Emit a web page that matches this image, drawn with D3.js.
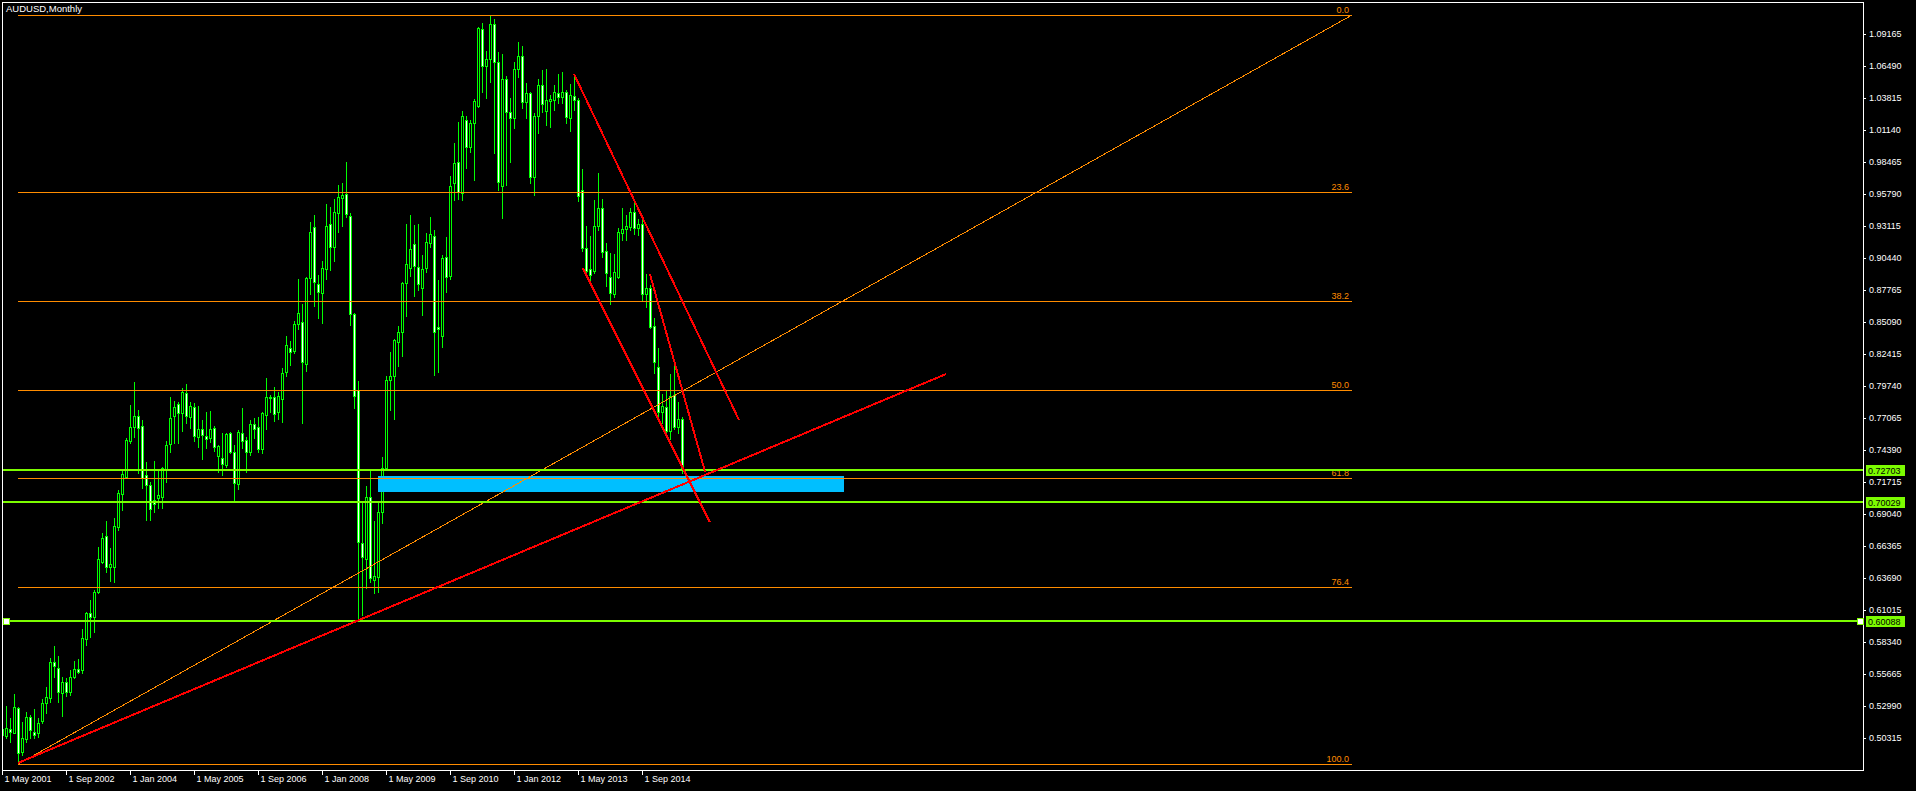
<!DOCTYPE html>
<html><head><meta charset="utf-8">
<script src="https://cdn.jsdelivr.net/npm/d3@7"></script>
<style>
html,body{margin:0;padding:0;background:#000;overflow:hidden}
svg{display:block}
text{font-family:"Liberation Sans",Arial,sans-serif}
</style></head><body>
<script>
// ---------------- DATA ----------------
const chartTitle = "AUDUSD,Monthly";
const firstMonth = "2001-05"; // first bar (month index 0)

const opens = [0.5105,0.5045,0.5107,0.5076,0.5280,0.4917,0.5021,0.5205,0.5085,0.5071,0.5176,0.5321,0.5368,0.5669,0.5620,0.5410,0.5497,0.5419,0.5544,0.5606,
0.5600,0.5856,0.6074,0.6040,0.6255,0.6500,0.6723,0.6464,0.6464,0.6793,0.7068,0.7216,0.7514,0.7634,0.7723,0.7640,0.7230,0.7146,0.7021,0.7035,
0.7043,0.7272,0.7489,0.7726,0.7821,0.7751,0.7912,0.7717,0.7796,0.7550,0.7617,0.7553,0.7542,0.7620,0.7389,0.7369,0.7314,0.7578,0.7419,0.7151,
0.7578,0.7522,0.7425,0.7654,0.7628,0.7444,0.7729,0.7876,0.7882,0.7760,0.7865,0.8088,0.8289,0.8269,0.8489,0.8512,0.8155,0.8874,0.9306,0.8824,
0.8754,0.8949,0.9326,0.9133,0.9417,0.9543,0.9579,0.9395,0.8576,0.7941,0.6664,0.6525,0.7043,0.6355,0.6380,0.6920,0.7290,0.8020,0.8060,0.8345,
0.8428,0.8832,0.8958,0.9158,0.8971,0.8790,0.8958,0.9167,0.9231,0.8464,0.8395,0.9049,0.8896,0.9668,0.9844,0.9584,1.0198,0.9969,1.0175,1.0317,
1.0956,1.0652,1.0705,1.0997,1.0680,0.9649,1.0540,1.0262,1.0211,1.0621,1.0733,1.0351,1.0420,0.9718,1.0231,1.0490,1.0276,1.0359,1.0365,1.0420,
1.0393,1.0429,1.0211,1.0401,1.0365,0.9612,0.9125,0.8949,0.8938,0.9314,0.9459,0.9105,0.8888,0.8743,0.8888,0.9256,0.9284,0.9306,0.9426,0.9292,
0.9325,0.8743,0.8791,0.8476,0.8130,0.7760,0.7796,0.7601,0.7898,0.7634,0.7695];
const highs = [0.5190,0.5299,0.5196,0.5399,0.5292,0.5168,0.5246,0.5224,0.5271,0.5196,0.5355,0.5455,0.5698,0.5801,0.5717,0.5544,0.5530,0.5600,0.5675,0.5689,
0.5943,0.6088,0.6185,0.6269,0.6625,0.6742,0.6846,0.6617,0.6868,0.7105,0.7272,0.7537,0.7815,0.8005,0.7773,0.7690,0.7342,0.7174,0.7347,0.7272,
0.7300,0.7514,0.7880,0.7849,0.7843,0.7955,0.7991,0.7843,0.7830,0.7807,0.7690,0.7760,0.7768,0.7643,0.7481,0.7578,0.7584,0.7590,0.7481,0.7606,
0.7787,0.7550,0.7690,0.7709,0.7718,0.7760,0.8038,0.7899,0.7968,0.7927,0.8122,0.8392,0.8350,0.8517,0.8866,0.8660,0.8888,0.9348,0.9403,0.8902,
0.9022,0.9495,0.9468,0.9534,0.9654,0.9674,0.9847,0.9417,0.8581,0.8016,0.6999,0.7138,0.7264,0.6846,0.7010,0.7380,0.8060,0.8261,0.8364,0.8476,
0.8846,0.9328,0.9403,0.9320,0.9328,0.9069,0.9256,0.9384,0.9278,0.8860,0.9069,0.9217,0.9730,1.0003,1.0178,1.0273,1.0231,1.0198,1.0370,1.0978,
1.1011,1.0774,1.1075,1.1040,1.0769,1.0749,1.0565,1.0384,1.0685,1.0852,1.0819,1.0509,1.0430,1.0259,1.0540,1.0615,1.0624,1.0407,1.0490,1.0582,
1.0596,1.0448,1.0498,1.0582,1.0379,0.9785,0.9311,0.9228,0.9529,0.9752,0.9534,0.9167,0.9083,0.9077,0.9292,0.9459,0.9404,0.9459,0.9501,0.9367,
0.9390,0.8910,0.8818,0.8540,0.8289,0.7907,0.7932,0.8072,0.8150,0.7843,0.7712];
const lows = [0.5030,0.5031,0.5001,0.5071,0.4820,0.4890,0.5001,0.5029,0.5029,0.5043,0.5154,0.5243,0.5335,0.5544,0.5335,0.5216,0.5383,0.5391,0.5530,0.5578,
0.5578,0.5809,0.5873,0.5921,0.6241,0.6492,0.6422,0.6347,0.6333,0.6770,0.6937,0.7202,0.7495,0.7550,0.7244,0.7119,0.6854,0.6854,0.6924,0.6951,
0.6950,0.7174,0.7425,0.7500,0.7495,0.7601,0.7662,0.7620,0.7517,0.7467,0.7361,0.7453,0.7509,0.7433,0.7258,0.7230,0.7300,0.7411,0.7007,0.7110,
0.7453,0.7258,0.7397,0.7542,0.7425,0.7411,0.7612,0.7760,0.7682,0.7696,0.7676,0.8060,0.8150,0.8253,0.8450,0.7668,0.8100,0.8743,0.8646,0.8545,
0.8503,0.8866,0.8944,0.9022,0.9264,0.9314,0.9384,0.8484,0.7793,0.6018,0.6060,0.6283,0.6339,0.6241,0.6250,0.6830,0.7270,0.7770,0.7700,0.8141,
0.8228,0.8562,0.8896,0.8729,0.8780,0.8568,0.8930,0.9133,0.8070,0.8090,0.8303,0.8763,0.8866,0.9529,0.9534,0.9529,0.9799,0.9933,0.9696,1.0309,
1.0434,1.0384,1.0518,0.9919,0.9612,0.9381,0.9654,0.9849,1.0134,1.0560,1.0301,1.0217,0.9668,0.9571,1.0092,1.0267,1.0156,1.0142,1.0281,1.0343,
1.0337,1.0175,1.0108,1.0280,0.9523,0.9105,0.8921,0.8846,0.8916,0.9278,0.9050,0.8810,0.8657,0.8721,0.8874,0.9195,0.9195,0.9278,0.9245,0.9237,
0.8687,0.8637,0.8456,0.8080,0.7718,0.7662,0.7564,0.7528,0.7612,0.7579,0.7250];
const closes = [0.5060,0.5112,0.5079,0.5288,0.4904,0.5029,0.5210,0.5099,0.5057,0.5160,0.5321,0.5371,0.5664,0.5633,0.5419,0.5497,0.5419,0.5539,0.5606,0.5586,
0.5865,0.6079,0.6040,0.6249,0.6525,0.6701,0.6464,0.6483,0.6807,0.7077,0.7238,0.7523,0.7634,0.7726,0.7620,0.7202,0.7146,0.6943,0.6985,0.7063,
0.7286,0.7481,0.7704,0.7801,0.7745,0.7921,0.7726,0.7810,0.7559,0.7612,0.7562,0.7528,0.7612,0.7467,0.7472,0.7319,0.7573,0.7425,0.7160,0.7590,
0.7517,0.7419,0.7654,0.7617,0.7447,0.7745,0.7882,0.7885,0.7737,0.7890,0.8080,0.8317,0.8261,0.8492,0.8581,0.8177,0.8880,0.9259,0.8841,0.8763,
0.8958,0.9312,0.9133,0.9426,0.9557,0.9571,0.9409,0.8576,0.7893,0.6673,0.6548,0.7043,0.6366,0.6386,0.6924,0.7290,0.8020,0.8060,0.8359,0.8423,
0.8832,0.8991,0.9116,0.8977,0.8827,0.8949,0.9175,0.9242,0.8428,0.8447,0.9041,0.8888,0.9649,0.9835,0.9598,1.0231,0.9975,1.0170,1.0356,1.0964,
1.0652,1.0705,1.0997,1.0680,0.9677,1.0540,1.0262,1.0217,1.0621,1.0733,1.0351,1.0420,0.9718,1.0231,1.0490,1.0331,1.0365,1.0370,1.0434,1.0387,
1.0429,1.0220,1.0406,1.0365,0.9565,0.9125,0.8938,0.8902,0.9314,0.9459,0.9097,0.8921,0.8749,0.8924,0.9259,0.9284,0.9311,0.9426,0.9292,0.9325,
0.8743,0.8791,0.8470,0.8172,0.7760,0.7807,0.7601,0.7890,0.7634,0.7695,0.7272];

const priceTicks = [0.50315,0.52990,0.55665,0.58340,0.61015,0.63690,0.66365,0.69040,0.71715,0.74390,0.77065,0.79740,
0.82415,0.85090,0.87765,0.90440,0.93115,0.95790,0.98465,1.01140,1.03815,1.06490,1.09165];
const dateTickLabels = ["1 May 2001","1 Sep 2002","1 Jan 2004","1 May 2005","1 Sep 2006","1 Jan 2008",
"1 May 2009","1 Sep 2010","1 Jan 2012","1 May 2013","1 Sep 2014"];

// Fibonacci retracement (anchors in month index / price)
const fibLevels = [0.0, 23.6, 38.2, 50.0, 61.8, 76.4, 100.0];
const fibAnchorMonths = [4, 337.5];
const fibAnchorPrices = [0.4812, 1.1075];

// Horizontal price levels (green)
const levelPrices = [0.72703, 0.70029, 0.60088];

// Red trend lines (month index / price of both ends)
const trendStartMonths = [4, 143, 145.2, 162];
const trendStartPrices = [0.4823, 1.0582, 0.8958, 0.8908];
const trendEndMonths   = [236, 184.25, 177, 175.75];
const trendEndPrices   = [0.8074, 0.7690, 0.6835, 0.7258];

// Blue zone rectangle
const zoneMonths = [94, 210.5];
const zonePrices = [0.7222, 0.7088];

// ---------------- CHART ----------------
const W = 1916, H = 791;
const L = 2, R = 1863, T = 2, B = 770;
const cGreen = "#00ff00", cLevel = "#7cfc00", cFib = "#ff8c00", cRed = "#ff0000", cZone = "#00bfff";

const svg = d3.select("body").append("svg").attr("width", W).attr("height", H)
  .style("background", "#000").attr("shape-rendering", "crispEdges");

const x = d3.scaleLinear().domain([0, (R - L) / 4]).range([L, R]);
const y = d3.scaleLinear().domain([0.4764, 1.1184]).range([B, T]);

svg.append("defs").append("clipPath").attr("id", "plot")
  .append("rect").attr("x", L + 1).attr("y", T + 1).attr("width", R - L - 1).attr("height", B - T - 1);

const plot = svg.append("g").attr("clip-path", "url(#plot)");

const bars = opens.map((o, i) => ({i, o, h: highs[i], l: lows[i], c: closes[i]}));

// candles
const cg = plot.append("g");
bars.forEach(d => {
  const cx = Math.round(x(d.i));
  cg.append("line").attr("x1", cx + 0.5).attr("x2", cx + 0.5)
    .attr("y1", Math.round(y(d.h))).attr("y2", Math.round(y(d.l)) + 1)
    .attr("stroke", cGreen).attr("stroke-width", 1);
  const top = Math.round(y(Math.max(d.o, d.c))) + 0.5;
  const bot = Math.round(y(Math.min(d.o, d.c))) + 0.5;
  cg.append("rect").attr("x", cx - 0.5).attr("width", 2)
    .attr("y", top).attr("height", Math.max(0, bot - top))
    .attr("fill", d.c >= d.o ? "#000" : "#fff")
    .attr("stroke", cGreen).attr("stroke-width", 1);
});

// blue zone
plot.append("rect")
  .attr("x", x(zoneMonths[0])).attr("width", x(zoneMonths[1]) - x(zoneMonths[0]))
  .attr("y", y(zonePrices[0])).attr("height", y(zonePrices[1]) - y(zonePrices[0]))
  .attr("fill", cZone);

// fibonacci
const fibHigh = fibAnchorPrices[1], fibLow = fibAnchorPrices[0];
const fg = plot.append("g");
fibLevels.forEach(lv => {
  const p = fibHigh - (fibHigh - fibLow) * lv / 100;
  const yy = Math.round(y(p)) + 0.5;
  fg.append("line").attr("x1", x(fibAnchorMonths[0])).attr("x2", x(fibAnchorMonths[1]))
    .attr("y1", yy).attr("y2", yy).attr("stroke", cFib).attr("stroke-width", 1);
  fg.append("text").attr("x", x(fibAnchorMonths[1]) - 3).attr("y", yy - 3)
    .attr("text-anchor", "end").attr("fill", cFib).attr("font-size", 9)
    .text(lv.toFixed(1));
});
fg.append("line")
  .attr("x1", x(fibAnchorMonths[0])).attr("y1", y(fibLow))
  .attr("x2", x(fibAnchorMonths[1])).attr("y2", y(fibHigh))
  .attr("stroke", cFib).attr("stroke-width", 1);

// green levels
levelPrices.forEach(p => {
  const yy = Math.round(y(p));
  plot.append("line").attr("x1", L).attr("x2", R).attr("y1", yy).attr("y2", yy)
    .attr("stroke", cLevel).attr("stroke-width", 2);
});

// red trend lines
trendStartMonths.forEach((m, k) => {
  plot.append("line")
    .attr("x1", x(m)).attr("y1", y(trendStartPrices[k]))
    .attr("x2", x(trendEndMonths[k])).attr("y2", y(trendEndPrices[k]))
    .attr("stroke", cRed).attr("stroke-width", 2);
});

// frame
svg.append("rect").attr("x", L + 0.5).attr("y", T + 0.5).attr("width", R - L).attr("height", B - T)
  .attr("fill", "none").attr("stroke", "#fff").attr("stroke-width", 1);

// price axis
const yAxis = d3.axisRight(y).tickValues(priceTicks).tickSize(3).tickPadding(3)
  .tickFormat(d3.format(".5f"));
const yg = svg.append("g").attr("transform", `translate(${R},0)`).call(yAxis);
yg.select(".domain").remove();
yg.selectAll("line").attr("stroke", "#fff");
yg.selectAll("text").attr("fill", "#fff").attr("font-size", 9).attr("font-family", "Liberation Sans, Arial, sans-serif");

// time axis
const parseTick = d3.utcParse("%d %b %Y");
const start = d3.utcParse("%Y-%m")(firstMonth);
const tickIdx = dateTickLabels.map(s => d3.utcMonth.count(start, parseTick(s)));
const xAxis = d3.axisBottom(x).tickValues(tickIdx).tickSize(5)
  .tickFormat((d, k) => dateTickLabels[k]);
const xg = svg.append("g").attr("transform", `translate(0,${B})`).call(xAxis);
xg.select(".domain").remove();
xg.selectAll("line").attr("stroke", "#fff");
xg.selectAll("text").attr("fill", "#fff").attr("font-size", 9).attr("text-anchor", "start")
  .attr("x", 2).attr("y", 6).attr("dy", "0.71em").attr("font-family", "Liberation Sans, Arial, sans-serif");

// level labels on price axis
levelPrices.forEach(p => {
  const yy = Math.round(y(p));
  svg.append("rect").attr("x", R + 3).attr("y", yy - 5).attr("width", 39).attr("height", 11).attr("fill", cLevel);
  svg.append("text").attr("x", R + 5).attr("y", yy + 3.5).attr("fill", "#000")
    .attr("font-size", 9).text(d3.format(".5f")(p));
});

// selection handles on the last level
{
  const yy = Math.round(y(levelPrices[2]));
  [L + 1, R - 6].forEach(hx => {
    svg.append("rect").attr("x", hx + 0.5).attr("y", yy - 3 + 0.5).attr("width", 6).attr("height", 6)
      .attr("fill", "#fff").attr("stroke", cLevel).attr("stroke-width", 1);
  });
}

// title
svg.append("text").attr("x", 6).attr("y", 12).attr("fill", "#fff").attr("font-size", 9.5).text(chartTitle);
</script>
</body></html>
